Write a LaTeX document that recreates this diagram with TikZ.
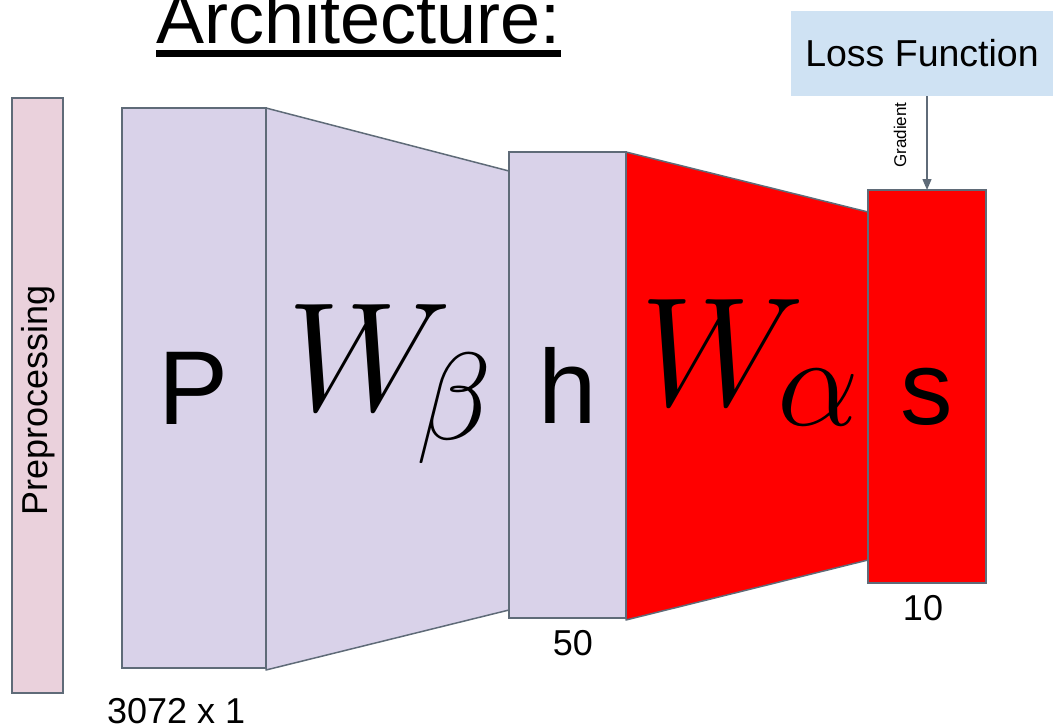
\RequirePackage{fix-cm}
\documentclass[tikz,border=0pt]{standalone}
\usepackage{fontspec}
\setmainfont{Liberation Sans}
\usetikzlibrary{calc,arrows.meta}
\pgfdeclarelayer{background}
\pgfsetlayers{background,main}
\definecolor{edge}{RGB}{95,107,120}
\definecolor{lav}{RGB}{217,210,233}
\definecolor{pinkbar}{RGB}{234,209,220}
\definecolor{lossblue}{RGB}{207,226,243}
\definecolor{brightred}{RGB}{255,0,0}
\tikzset{
  layerbox/.style={draw=edge, line width=1.5pt, inner sep=0pt, outer sep=0pt},
  trap/.style={draw=edge, line width=1.5pt, line join=round},
  bigletter/.style={font=\fontsize{105}{105}\selectfont},
  dimlabel/.style={font=\fontsize{36}{36}\selectfont, inner sep=0pt, anchor=base},
  mathW/.style={font=\fontsize{155}{155}\selectfont, inner sep=0pt, anchor=base west},
  mathsub/.style={font=\fontsize{124}{124}\selectfont, inner sep=0pt, anchor=base west},
  gradarrow/.style={draw=edge, line width=1.4pt, -{Triangle[length=11pt,width=9pt]}}
}
\begin{document}
\begin{tikzpicture}[x=1pt,y=-1pt]
\useasboundingbox (0,0) rectangle (1053,725);
% title
\node[font=\fontsize{72}{72}\selectfont, inner sep=0pt, anchor=base west] (title) at (156,44) {Architecture:};
\fill ($(title.base west)+(0,6)$) rectangle ($(title.base east)+(0,13)$);
% boxes
\node[layerbox, fill=pinkbar, minimum width=51pt, minimum height=595pt] (pre) at (37.5,395.5) {};
\node[rotate=90, font=\fontsize{36}{36}\selectfont, inner sep=0pt] (pretext) at (38,400) {Preprocessing};
\node[layerbox, fill=lav, minimum width=144pt, minimum height=560pt, bigletter] (P) at (194,388) {P};
\node[layerbox, fill=lav, minimum width=117pt, minimum height=466pt, bigletter] (h) at (567.5,385) {h};
\node[layerbox, fill=brightred, minimum width=118pt, minimum height=393pt, bigletter] (s) at (927,386.5) {\vphantom{h}s};
\node[fill=lossblue, minimum width=262pt, minimum height=85pt, inner sep=0pt, font=\fontsize{37.5}{37.5}\selectfont] (loss) at (922,53.5) {Loss Function};
% trapezoids
\begin{pgfonlayer}{background}
\draw[trap, fill=lav] (P.north east) -- ($(h.north west)+(0,19)$) -- ($(h.south west)+(0,-8)$) -- ($(P.south east)+(0,2)$) -- cycle;
\draw[trap, fill=brightred] (h.north east) -- ($(s.north west)+(0,22)$) -- ($(s.south west)+(0,-23)$) -- ($(h.south east)+(0,2)$) -- cycle;
\end{pgfonlayer}
% weight labels
\node[mathW] (Wb) at (287,410) {$W$};
\node[mathsub] (beta) at (416,439) {$\beta$};
\node[mathW] (Wa) at (640,405) {$W$};
\node[font=\fontsize{130}{130}\selectfont, inner sep=0pt, anchor=base west] (alpha) at (777,425) {$\alpha$};
% gradient arrow
\draw[gradarrow] (s.north |- loss.south) -- (s.north);
\node[rotate=90, font=\fontsize{17}{17}\selectfont, inner sep=0pt] (grad) at (900,135) {Gradient};
% dimension labels
\node[dimlabel, anchor=base west] (d1) at (107,723) {3072 x 1};
\node[dimlabel] (d2) at (573,655) {50};
\node[dimlabel] (d3) at (923,620) {10};
\end{tikzpicture}
\end{document}
